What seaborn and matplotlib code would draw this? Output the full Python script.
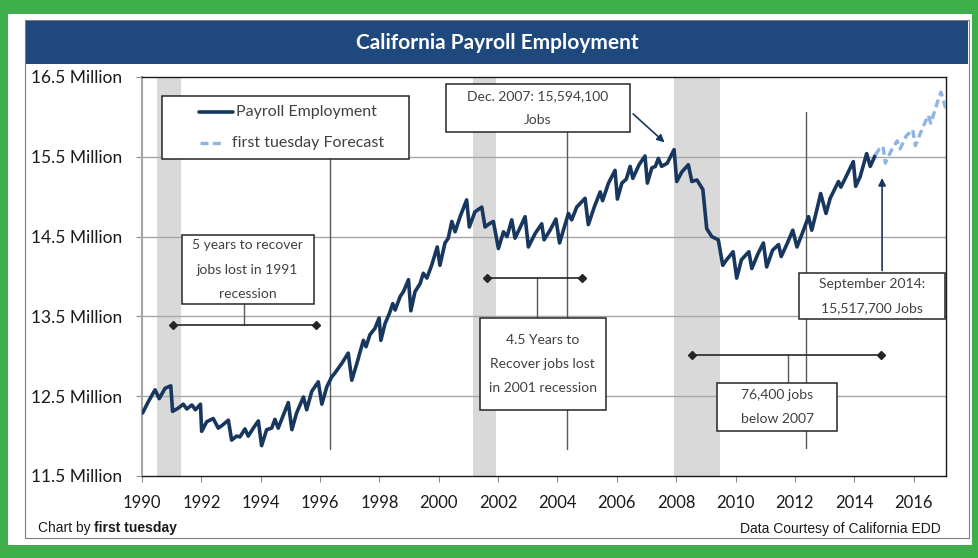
import matplotlib.pyplot as plt
import numpy as np
import pandas as pd
import seaborn as sns
from matplotlib.patches import Rectangle

# monthly-ish vertices (decimal year, million jobs)
actual_years = [
    1990.02, 1990.21, 1990.44, 1990.58, 1990.78, 1990.97,
    1991.03, 1991.22, 1991.39, 1991.51, 1991.68, 1991.80, 1991.97,
    1992.01, 1992.18, 1992.40, 1992.57, 1992.72, 1992.91,
    1993.02, 1993.19, 1993.30, 1993.47, 1993.58, 1993.75, 1993.92,
    1994.03, 1994.20, 1994.37, 1994.48, 1994.59, 1994.76, 1994.93,
    1995.05, 1995.21, 1995.44, 1995.55, 1995.72, 1995.83, 1995.94,
    1996.06, 1996.23, 1996.39, 1996.50, 1996.73, 1996.95,
    1997.07, 1997.24, 1997.46, 1997.55, 1997.68, 1997.85, 1997.99,
    1998.05, 1998.19, 1998.34, 1998.45, 1998.53, 1998.70, 1998.81, 1998.98,
    1999.06, 1999.20, 1999.37, 1999.48, 1999.60, 1999.76, 1999.95,
    2000.04, 2000.21, 2000.32, 2000.44, 2000.55, 2000.72, 2000.94,
    2001.03, 2001.22, 2001.45, 2001.56, 2001.70, 2001.84,
    2002.01, 2002.18, 2002.30, 2002.46, 2002.57, 2002.75, 2002.91,
    2003.02, 2003.25, 2003.47, 2003.55, 2003.75, 2003.95,
    2004.07, 2004.20, 2004.37, 2004.48, 2004.65, 2004.93,
    2005.04, 2005.25, 2005.44, 2005.52, 2005.72, 2005.94,
    2006.02, 2006.17, 2006.32, 2006.45, 2006.54, 2006.75, 2006.95,
    2007.03, 2007.18, 2007.30, 2007.40, 2007.51, 2007.70, 2007.93,
    2008.02, 2008.19, 2008.41, 2008.53, 2008.70, 2008.90,
    2009.03, 2009.20, 2009.42, 2009.57, 2009.70, 2009.92,
    2010.04, 2010.20, 2010.45, 2010.55, 2010.75, 2010.94,
    2011.05, 2011.25, 2011.45, 2011.54, 2011.75, 2011.93,
    2012.07, 2012.25, 2012.46, 2012.57, 2012.75, 2012.87,
    2013.05, 2013.19, 2013.47, 2013.55, 2013.75, 2013.97,
    2014.05, 2014.20, 2014.42, 2014.54, 2014.71,
]
actual_jobs = [
    12.29, 12.43, 12.58, 12.47, 12.60, 12.63,
    12.31, 12.35, 12.40, 12.34, 12.39, 12.33, 12.40,
    12.06, 12.18, 12.22, 12.10, 12.14, 12.20,
    11.95, 12.00, 11.99, 12.09, 12.00, 12.10, 12.19,
    11.88, 12.08, 12.10, 12.21, 12.10, 12.26, 12.42,
    12.08, 12.29, 12.49, 12.33, 12.56, 12.62, 12.68,
    12.40, 12.62, 12.74, 12.79, 12.91, 13.04,
    12.70, 12.91, 13.20, 13.12, 13.27, 13.35, 13.48,
    13.20, 13.41, 13.54, 13.66, 13.58, 13.75, 13.81, 13.96,
    13.57, 13.81, 13.91, 14.04, 13.98, 14.14, 14.37,
    14.14, 14.42, 14.48, 14.69, 14.56, 14.75, 14.96,
    14.62, 14.81, 14.87, 14.62, 14.66, 14.69,
    14.35, 14.56, 14.50, 14.71, 14.48, 14.62, 14.75,
    14.37, 14.54, 14.66, 14.46, 14.58, 14.72,
    14.42, 14.58, 14.79, 14.71, 14.87, 14.98,
    14.65, 14.88, 15.06, 14.95, 15.17, 15.33,
    14.97, 15.17, 15.22, 15.38, 15.23, 15.40, 15.51,
    15.17, 15.36, 15.38, 15.48, 15.38, 15.42, 15.59,
    15.19, 15.31, 15.40, 15.19, 15.21, 15.09,
    14.60, 14.50, 14.46, 14.14, 14.21, 14.31,
    13.98, 14.21, 14.31, 14.10, 14.28, 14.42,
    14.12, 14.33, 14.40, 14.25, 14.42, 14.58,
    14.37, 14.54, 14.75, 14.58, 14.85, 15.04,
    14.79, 14.98, 15.19, 15.12, 15.27, 15.44,
    15.13, 15.25, 15.54, 15.38, 15.52,
]
forecast_years = [2014.71, 2014.85, 2014.97, 2015.05, 2015.25, 2015.45, 2015.55, 2015.75,
                  2015.97, 2016.06, 2016.30, 2016.50, 2016.58, 2016.80, 2016.92, 2017.08]
forecast_jobs = [15.52, 15.60, 15.63, 15.42, 15.58, 15.70, 15.60, 15.76,
                 15.84, 15.64, 15.86, 16.02, 15.92, 16.18, 16.31, 16.11]

recessions = [(1990.5, 1991.3), (2001.17, 2001.92), (2007.93, 2009.48)]
y_ticks = [11.5, 12.5, 13.5, 14.5, 15.5, 16.5]
x_ticks = list(range(1990, 2017, 2))

NAVY = '#17375E'
LIGHT = '#8DB4E2'
GREEN = '#3DAE49'
TXT = '#404040'

sns.set_style('white')
plt.rcParams['font.family'] = ['Lato', 'DejaVu Sans']

df_act = pd.DataFrame({'year': actual_years, 'jobs': actual_jobs})
df_fc = pd.DataFrame({'year': forecast_years, 'jobs': forecast_jobs})

fig = plt.figure(figsize=(9.79, 5.58), dpi=100, facecolor=GREEN)
W, H = 979.0, 558.0


def fig_rect(x0, y0, x1, y1, z=-2, **kw):
    # pixel box (top-left origin) -> figure rectangle
    r = Rectangle((x0 / W, 1 - y1 / H), (x1 - x0) / W, (y1 - y0) / H, transform=fig.transFigure,
                  zorder=z, **kw)
    fig.patches.append(r)


fig_rect(8, 14, 972, 545, facecolor='white', edgecolor='none')
fig_rect(25, 20, 969, 538, z=-1, facecolor='none', edgecolor='#7F7F7F', lw=0.8)
fig_rect(26, 21, 968, 64, z=-1, facecolor='#1F497D', edgecolor='none')
fig.text(497 / W, 1 - 43 / H, 'California Payroll Employment', color='white', fontsize=15,
         fontweight='bold', ha='center', va='center')

ax = fig.add_axes([142 / W, 1 - 476 / H, (945.6 - 142) / W, (476 - 77) / H])

for a, b in recessions:
    ax.axvspan(a, b, color='#D9D9D9', lw=0, zorder=0)

for v in y_ticks[1:-1]:
    ax.axhline(v, color='#A6A6A6', lw=1, zorder=0.5)

sns.lineplot(data=df_act, x='year', y='jobs', ax=ax, color=NAVY, lw=2.6, zorder=3)
sns.lineplot(data=df_fc, x='year', y='jobs', ax=ax, color=LIGHT, lw=2.4, zorder=3, linestyle=(0, (2.4, 1.3)))

ax.set_xlim(1990, 2017.08)
ax.set_ylim(11.5, 16.5)
ax.set_xticks(x_ticks)
ax.set_xticklabels([str(t) for t in x_ticks], fontsize=12, color='#1A1A1A')
ax.set_yticks(y_ticks)
ax.set_yticklabels([f'{t} Million' for t in y_ticks], fontsize=12.5, color='#1A1A1A')
ax.set_xlabel('')
ax.set_ylabel('')
ax.tick_params(axis='y', direction='out', length=4.5, color='#8C8C8C', pad=10, left=True)
ax.tick_params(axis='x', direction='out', length=4.5, color='#8C8C8C', pad=9, bottom=True)
for s in ['top', 'right', 'bottom']:
    ax.spines[s].set_color('#1A1A1A')
    ax.spines[s].set_linewidth(1.0)
ax.spines['left'].set_color('#A6A6A6')
ax.spines['left'].set_linewidth(1.5)

LS = 0.307  # line gap in data units


def box(x0, x1, ytop, ybot, lines, fs=10):
    ax.add_patch(Rectangle((x0, ybot), x1 - x0, ytop - ybot, facecolor='white', edgecolor='#262626',
                           lw=1.1, zorder=6, clip_on=False))
    yc = (ytop + ybot) / 2
    n = len(lines)
    for i, t in enumerate(lines):
        ax.text((x0 + x1) / 2, yc + (n - 1) / 2 * LS - i * LS, t, ha='center', va='center',
                fontsize=fs, color=TXT, zorder=7)


def vline(x, y0, y1):
    ax.plot([x, x], [y0, y1], color='#595959', lw=1, zorder=2)


def bracket(x0, x1, y):
    ax.plot([x0, x1], [y, y], color='#262626', lw=1.2, marker='D', ms=4.5, zorder=4)


# legend box
ax.add_patch(Rectangle((1990.674, 15.472), 8.325, 0.794, facecolor='white', edgecolor='#262626',
                       lw=1.1, zorder=6))
ax.plot([1991.93, 1993.06], [16.065, 16.065], color=NAVY, lw=2.6, zorder=7)
ax.text(1993.17, 16.065, 'Payroll Employment', fontsize=11.5, color=TXT, va='center', zorder=7)
ax.plot([1991.95, 1992.72], [15.67, 15.67], color=LIGHT, lw=2.4, linestyle=(0, (2.4, 1.3)), zorder=7)
ax.text(1993.02, 15.67, 'first tuesday Forecast', fontsize=11.5, color=TXT, va='center', zorder=7)
vline(1996.34, 15.472, 11.84)

# 1991 recession
box(1991.338, 1995.787, 14.52, 13.655, ['5 years to recover', 'jobs lost in 1991', 'recession'])
vline(1993.44, 13.655, 13.39)
bracket(1991.03, 1995.85, 13.39)

# Dec 2007 peak
box(2000.236, 2006.448, 16.409, 15.815, ['Dec. 2007: 15,594,100', 'Jobs'])
ax.annotate('', xy=(2007.68, 15.657), xytext=(2006.48, 16.061),
            arrowprops=dict(arrowstyle='-|>', color=NAVY, lw=1.2, mutation_scale=11), zorder=5)
vline(2004.334, 15.815, 11.84)

# 2001 recession
bracket(2001.62, 2004.84, 13.977)
vline(2003.30, 13.977, 13.484)
box(2001.382, 2005.629, 13.484, 12.323, ['4.5 Years to', 'Recover jobs lost', 'in 2001 recession'])

# Sept 2014
vline(2012.37, 16.058, 11.851)
box(2012.143, 2017.064, 14.04, 13.464, ['September 2014:', '15,517,700 Jobs'])
ax.annotate('', xy=(2014.94, 15.27), xytext=(2014.94, 14.04),
            arrowprops=dict(arrowstyle='-|>', color=NAVY, lw=1.2, mutation_scale=11), zorder=5)

# 2008 recession
bracket(2008.55, 2014.90, 13.016)
vline(2011.78, 13.016, 12.669)
box(2009.39, 2013.434, 12.669, 12.064, ['76,400 jobs', 'below 2007'])

# footer
fig.text(38 / W, 1 - 528 / H, 'Chart by', fontsize=10, family='Liberation Sans', color='#1A1A1A', va='center')
fig.text(94 / W, 1 - 528 / H, 'first tuesday', fontsize=10, family='Liberation Sans', fontweight='bold',
         color='#1A1A1A', va='center')
fig.text(941 / W, 1 - 529 / H, 'Data Courtesy of California EDD', fontsize=10, family='Liberation Sans',
         color='#1A1A1A', va='center', ha='right')

fig.savefig('out.png', dpi=100, facecolor=GREEN)
